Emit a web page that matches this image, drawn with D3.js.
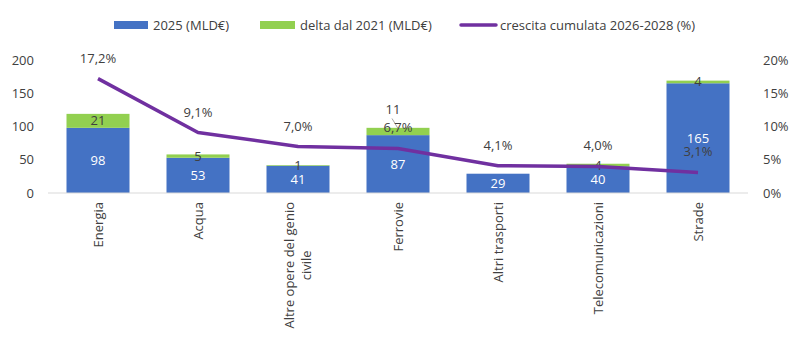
<!DOCTYPE html>
<html>
<head>
<meta charset="utf-8">
<script src="https://cdn.jsdelivr.net/npm/d3@7"></script>
<style>
  body { margin: 0; background: #fff; }
  svg text { font-family: "Open Sans", sans-serif; fill: #404040; }
</style>
</head>
<body>
<div id="chart"></div>
<script>
const categories = ['Energia', 'Acqua', 'Altre opere del genio civile', 'Ferrovie', 'Altri trasporti', 'Telecomunicazioni', 'Strade']
const value2025 = [98, 53, 41, 87, 29, 40, 165]
const delta2021 = [21, 5, 1, 11, 0, 4, 4]
const growthPct = [17.2, 9.1, 7.0, 6.7, 4.1, 4.0, 3.1]
const leftTicks = [0, 50, 100, 150, 200]
const rightTicks = [0, 5, 10, 15, 20]

const width = 800
const height = 338
const blue = '#4472C4'
const green = '#92D050'
const purple = '#7030A0'

const svg = d3.select('#chart')
  .append('svg')
  .attr('width', width)
  .attr('height', height)

const x = d3.scaleBand()
  .domain(categories)
  .range([48, 748])
  .paddingInner(0.37)
  .paddingOuter(0.185)

const y = d3.scaleLinear().domain([0, 200]).range([193, 60])
const yPct = d3.scaleLinear().domain([0, 20]).range([193, 60])

const comma = (v) => d3.format('.1f')(v).replace('.', ',') + '%'

// Left axis labels
svg.append('g')
  .selectAll('text')
  .data(leftTicks)
  .join('text')
  .attr('x', 34)
  .attr('y', (d) => y(d))
  .attr('dy', '0.35em')
  .attr('text-anchor', 'end')
  .attr('font-size', 13)
  .text((d) => d)

// Right axis labels
svg.append('g')
  .selectAll('text')
  .data(rightTicks)
  .join('text')
  .attr('x', 763)
  .attr('y', (d) => yPct(d))
  .attr('dy', '0.35em')
  .attr('font-size', 13)
  .text((d) => d + '%')

// Stacked bars
const rows = categories.map((c, i) => ({ cat: c, base: value2025[i], delta: delta2021[i] }))

svg.append('g')
  .selectAll('rect')
  .data(rows)
  .join('rect')
  .attr('x', (d) => x(d.cat))
  .attr('width', x.bandwidth())
  .attr('y', (d) => y(d.base))
  .attr('height', (d) => y(0) - y(d.base))
  .attr('fill', blue)

svg.append('g')
  .selectAll('rect')
  .data(rows.filter((d) => d.delta > 0))
  .join('rect')
  .attr('x', (d) => x(d.cat))
  .attr('width', x.bandwidth())
  .attr('y', (d) => y(d.base + d.delta))
  .attr('height', (d) => y(d.base) - y(d.base + d.delta))
  .attr('fill', green)

// Baseline
svg.append('line')
  .attr('x1', 48).attr('x2', 748)
  .attr('y1', y(0)).attr('y2', y(0))
  .attr('stroke', '#d9d9d9')
  .attr('stroke-width', 1)

// Value labels inside the blue bars
svg.append('g')
  .selectAll('text')
  .data(rows)
  .join('text')
  .attr('x', (d) => x(d.cat) + x.bandwidth() / 2)
  .attr('y', (d) => y(d.base / 2))
  .attr('dy', '0.35em')
  .attr('text-anchor', 'middle')
  .attr('font-size', 13)
  .style('fill', '#fff')
  .text((d) => d.base)

// Delta labels, Ferrovie pulled up with a leader line
const deltaShift = { 'Ferrovie': [-5, -22] }
const deltaRows = rows.filter((d) => d.delta > 0)

svg.append('g')
  .selectAll('text')
  .data(deltaRows)
  .join('text')
  .attr('x', (d) => x(d.cat) + x.bandwidth() / 2 + (deltaShift[d.cat] ? deltaShift[d.cat][0] : 0))
  .attr('y', (d) => y(d.base + d.delta / 2) + (deltaShift[d.cat] ? deltaShift[d.cat][1] : 0))
  .attr('dy', '0.35em')
  .attr('text-anchor', 'middle')
  .attr('font-size', 13)
  .text((d) => d.delta)

deltaRows.filter((d) => deltaShift[d.cat]).forEach((d) => {
  const cx = x(d.cat) + x.bandwidth() / 2
  const cy = y(d.base + d.delta / 2)
  svg.append('line')
    .attr('x1', cx + deltaShift[d.cat][0] - 1)
    .attr('y1', cy + deltaShift[d.cat][1] + 9)
    .attr('x2', cx)
    .attr('y2', cy - 3)
    .attr('stroke', '#a6a6a6')
    .attr('stroke-width', 1)
})

// Growth line
const linePts = categories.map((c, i) => [x(c) + x.bandwidth() / 2, yPct(growthPct[i])])

svg.append('path')
  .attr('d', d3.line()(linePts))
  .attr('fill', 'none')
  .attr('stroke', purple)
  .attr('stroke-width', 3.5)
  .attr('stroke-linejoin', 'round')

svg.append('g')
  .selectAll('text')
  .data(growthPct)
  .join('text')
  .attr('x', (d, i) => linePts[i][0])
  .attr('y', (d, i) => linePts[i][1] - 20.5)
  .attr('dy', '0.35em')
  .attr('text-anchor', 'middle')
  .attr('font-size', 13)
  .text((d) => comma(d))

// Category labels, rotated
const catG = svg.append('g')
categories.forEach((c) => {
  const lines = c === 'Altre opere del genio civile' ? ['Altre opere del genio', 'civile'] : [c]
  const cx = x(c) + x.bandwidth() / 2
  const t = catG.append('text')
    .attr('font-size', 13)
    .attr('text-anchor', 'middle')
  lines.forEach((l, i) => {
    t.append('tspan')
      .attr('x', 0)
      .attr('dy', i === 0 ? 0 : '1.35em')
      .text(l)
  })
  const w = d3.max(t.selectAll('tspan').nodes(), (n) => n.getComputedTextLength())
  const lineH = 17.5
  const shiftX = (lines.length - 1) * lineH / 2
  t.attr('transform', `translate(${cx + 4.5 - shiftX},${202 + w / 2}) rotate(-90)`)
})

// Legend
const legend = svg.append('g').attr('font-size', 13)
legend.append('rect').attr('x', 114).attr('y', 21).attr('width', 34).attr('height', 8).attr('fill', blue)
legend.append('text').attr('x', 153).attr('y', 25).attr('dy', '0.35em').attr('font-size', 13).text('2025 (MLD€)')
legend.append('rect').attr('x', 260).attr('y', 21).attr('width', 35).attr('height', 8).attr('fill', green)
legend.append('text').attr('x', 300).attr('y', 25).attr('dy', '0.35em').attr('font-size', 13).text('delta dal 2021 (MLD€)')
legend.append('line').attr('x1', 461).attr('x2', 496).attr('y1', 25).attr('y2', 25)
  .attr('stroke', purple).attr('stroke-width', 3.5).attr('stroke-linecap', 'round')
legend.append('text').attr('x', 500).attr('y', 25).attr('dy', '0.35em').attr('font-size', 13).text('crescita cumulata 2026-2028 (%)')
</script>
</body>
</html>
